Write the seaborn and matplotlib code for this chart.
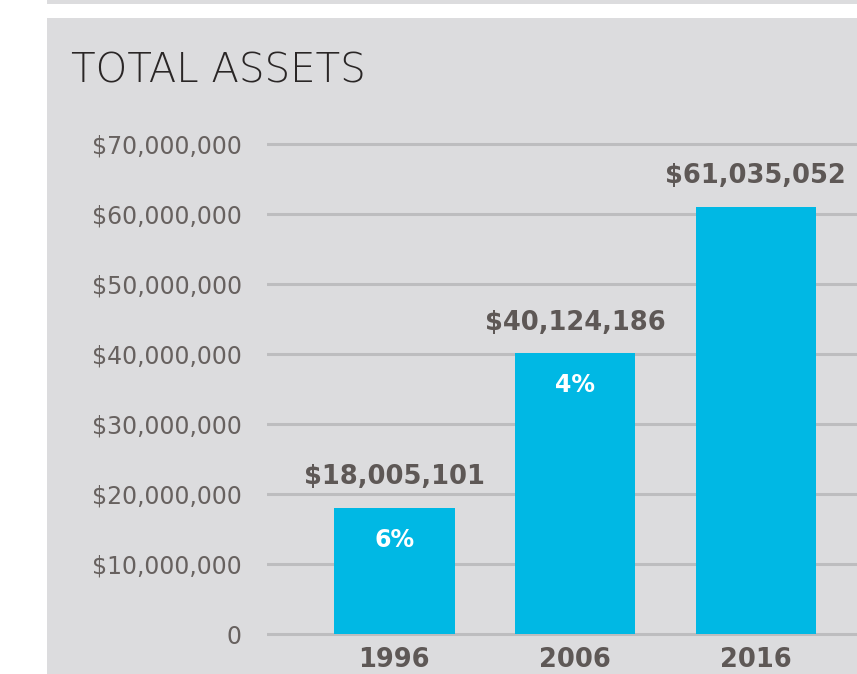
import matplotlib
matplotlib.use("Agg")
import matplotlib.pyplot as plt
import seaborn as sns
import pandas as pd
from matplotlib.patches import Rectangle
from matplotlib.ticker import FuncFormatter

# ── Data ──────────────────────────────────────────────────────────────────────
years       = ["1996", "2006", "2016"]
assets      = [18005101, 40124186, 61035052]
growth      = ["6%", "4%", ""]
y_ticks     = [0, 10e6, 20e6, 30e6, 40e6, 50e6, 60e6, 70e6]

df = pd.DataFrame({"year": years, "assets": assets})

# ── Style ─────────────────────────────────────────────────────────────────────
PANEL = "#dcdcde"
BAR   = "#00b8e4"
GRID  = "#bdbdbf"
TXT   = "#5e5856"

sns.set_style("white")
plt.rcParams["font.family"] = ["DejaVu Sans"]

W, H = 857, 674
fig = plt.figure(figsize=(W / 100, H / 100), dpi=100)
fig.patch.set_facecolor("white")

# grey panel + thin strip on top (behind the axes)
fig.patches.append(Rectangle((47 / W, 0), 1, (H - 18) / H, transform=fig.transFigure,
                             facecolor=PANEL, edgecolor="none", zorder=-10))
fig.patches.append(Rectangle((47 / W, 1 - 4 / H), 1, 4 / H, transform=fig.transFigure,
                             facecolor=PANEL, edgecolor="none", zorder=-10))

# axes: 0 at y=634px, 70M at y=144px, left edge at x=267px
ax = fig.add_axes([267 / W, (H - 637.5) / H, 1 - 267 / W, 497 / H])
ax.set_facecolor("none")

sns.barplot(data=df, x="year", y="assets", color=BAR, saturation=1,
            width=0.667, linewidth=0, ax=ax, zorder=3)

ax.set_ylim(-0.5e6, 70.5e6)
ax.set_xlim(-0.705, 2.56)
ax.set_yticks(y_ticks)
ax.yaxis.set_major_formatter(FuncFormatter(lambda v, p: "0" if v == 0 else f"${v:,.0f}"))
ax.yaxis.grid(True, color=GRID, linewidth=2.2)
ax.set_axisbelow(True)
for s in ax.spines.values():
    s.set_visible(False)

ax.tick_params(axis="y", length=0, pad=18, labelsize=17, labelcolor="#67615f")
ax.tick_params(axis="x", length=0, pad=7, labelsize=18.5, labelcolor=TXT)
for lbl in ax.get_xticklabels():
    lbl.set_fontweight("bold")
ax.set_xlabel("")
ax.set_ylabel("")

# value labels above bars, growth labels inside
for i, (v, g) in enumerate(zip(assets, growth)):
    ax.annotate(f"${v:,.0f}", (i, v), xytext=(0, 22), textcoords="offset points",
                ha="center", va="center", fontsize=18.5, fontweight="bold", color=TXT)
    if g:
        ax.annotate(g, (i, v), xytext=(0, -23), textcoords="offset points",
                    ha="center", va="center", fontsize=17, fontweight="bold", color="white")

fig.text(71 / W, 1 - 71 / H, "TOTAL ASSETS", ha="left", va="center",
         fontsize=29, fontweight="light", color="#2a2626")

plt.savefig("out.png", dpi=100)
